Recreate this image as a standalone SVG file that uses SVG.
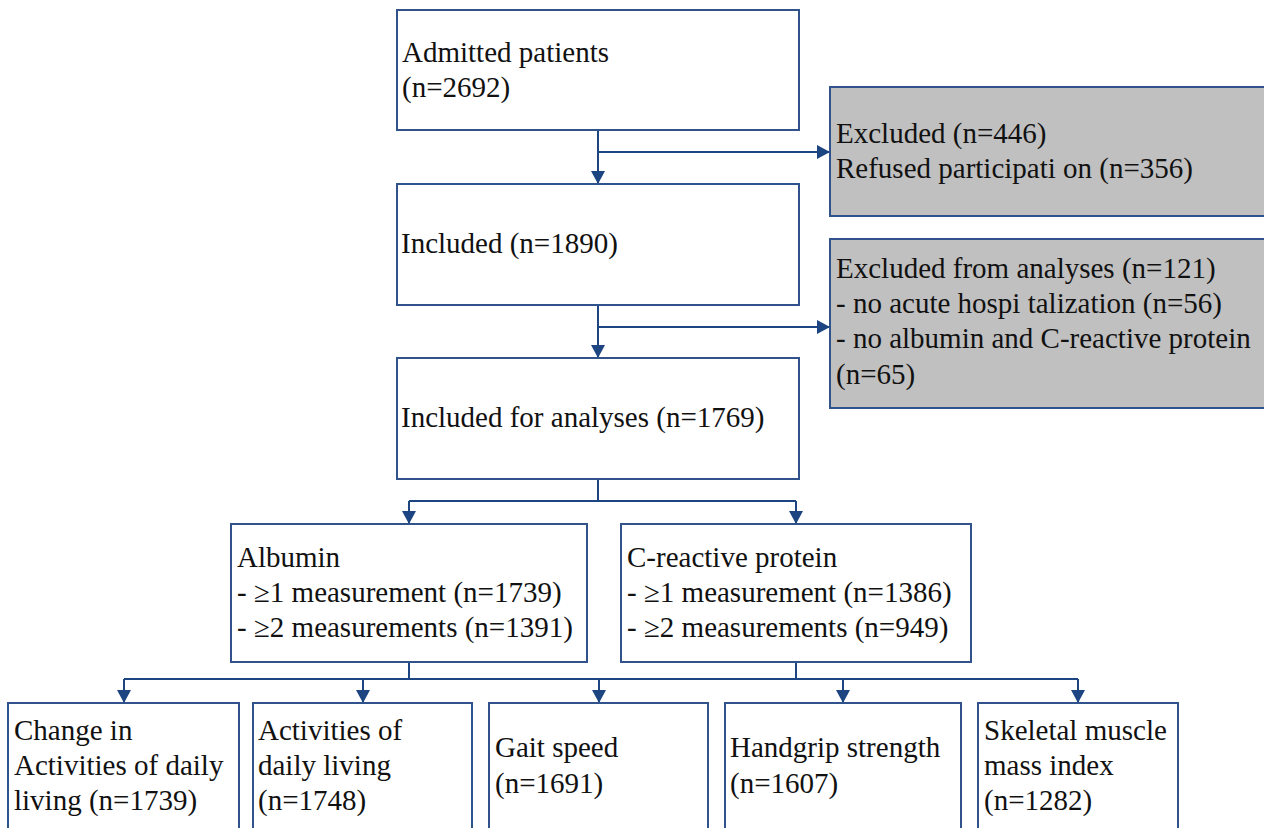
<svg xmlns="http://www.w3.org/2000/svg" width="1264" height="828" viewBox="0 0 1264 828">
<style>
.box{fill:#ffffff;stroke:#2f538a;stroke-width:2}
.grey{fill:#c0c0c0;stroke:#2f538a;stroke-width:2}
.t{font-family:"Liberation Serif","Times New Roman",serif;font-size:29px;fill:#111111}
.c{fill:none;stroke:#1d4582;stroke-width:2}
</style>
<defs>
<marker id="ah" markerUnits="userSpaceOnUse" markerWidth="14" markerHeight="14" refX="13" refY="7" orient="auto">
<path d="M0,0 L13,7 L0,14 z" fill="#1d4582"/>
</marker>
</defs>
<rect width="1264" height="828" fill="#ffffff"/>
<g id="connectors">
<path class="c" d="M598,130 V184" marker-end="url(#ah)"/>
<path class="c" d="M598,152 H830" marker-end="url(#ah)"/>
<path class="c" d="M598,305 V358" marker-end="url(#ah)"/>
<path class="c" d="M598,327 H830" marker-end="url(#ah)"/>
<path class="c" d="M598,479 V501 M409,501 H796"/>
<path class="c" d="M409,501 V524" marker-end="url(#ah)"/>
<path class="c" d="M796,501 V524" marker-end="url(#ah)"/>
<path class="c" d="M409,662 V679 M796,662 V679 M124,679 H1078"/>
<path class="c" d="M124,679 V703" marker-end="url(#ah)"/>
<path class="c" d="M363,679 V703" marker-end="url(#ah)"/>
<path class="c" d="M599,679 V703" marker-end="url(#ah)"/>
<path class="c" d="M843,679 V703" marker-end="url(#ah)"/>
<path class="c" d="M1078,679 V703" marker-end="url(#ah)"/>
</g>
<g id="admitted">
<rect class="box" x="397" y="10" width="402" height="120"/>
<text class="t" x="402" y="62">Admitted patients</text>
<text class="t" x="402" y="97">(n=2692)</text>
</g>
<g id="excluded1">
<rect class="grey" x="830" y="87" width="440" height="129"/>
<text class="t" x="836" y="143">Excluded (n=446)</text>
<text class="t" x="836" y="178">Refused participati on (n=356)</text>
</g>
<g id="included">
<rect class="box" x="397" y="184" width="402" height="121"/>
<text class="t" x="401" y="253">Included (n=1890)</text>
</g>
<g id="excluded2">
<rect class="grey" x="830" y="239" width="440" height="169"/>
<text class="t" x="836" y="278">Excluded from analyses (n=121)</text>
<text class="t" x="836" y="313">- no acute hospi talization (n=56)</text>
<text class="t" x="836" y="348">- no albumin and C-reactive protein</text>
<text class="t" x="836" y="384">(n=65)</text>
</g>
<g id="analyses">
<rect class="box" x="397" y="358" width="402" height="121"/>
<text class="t" x="401" y="427">Included for analyses (n=1769)</text>
</g>
<g id="albumin">
<rect class="box" x="231" y="524" width="356" height="138"/>
<text class="t" x="237" y="567">Albumin</text>
<text class="t" x="237" y="602">- ≥1 measurement (n=1739)</text>
<text class="t" x="237" y="637">- ≥2 measurements (n=1391)</text>
</g>
<g id="crp">
<rect class="box" x="621" y="524" width="350" height="138"/>
<text class="t" x="627" y="567">C-reactive protein</text>
<text class="t" x="627" y="602">- ≥1 measurement (n=1386)</text>
<text class="t" x="627" y="637">- ≥2 measurements (n=949)</text>
</g>
<g id="change-adl">
<rect class="box" x="8" y="703" width="231" height="140"/>
<text class="t" x="14" y="740">Change in</text>
<text class="t" x="14" y="775">Activities of daily</text>
<text class="t" x="14" y="810">living (n=1739)</text>
</g>
<g id="adl">
<rect class="box" x="253" y="703" width="219" height="140"/>
<text class="t" x="258" y="740">Activities of</text>
<text class="t" x="258" y="775">daily living</text>
<text class="t" x="258" y="810">(n=1748)</text>
</g>
<g id="gait">
<rect class="box" x="489" y="703" width="219" height="140"/>
<text class="t" x="495" y="757">Gait speed</text>
<text class="t" x="495" y="793">(n=1691)</text>
</g>
<g id="handgrip">
<rect class="box" x="725" y="703" width="236" height="140"/>
<text class="t" x="730" y="757">Handgrip strength</text>
<text class="t" x="730" y="793">(n=1607)</text>
</g>
<g id="smi">
<rect class="box" x="978" y="703" width="200" height="140"/>
<text class="t" x="984" y="740">Skeletal muscle</text>
<text class="t" x="984" y="775">mass index</text>
<text class="t" x="984" y="810">(n=1282)</text>
</g>
</svg>
